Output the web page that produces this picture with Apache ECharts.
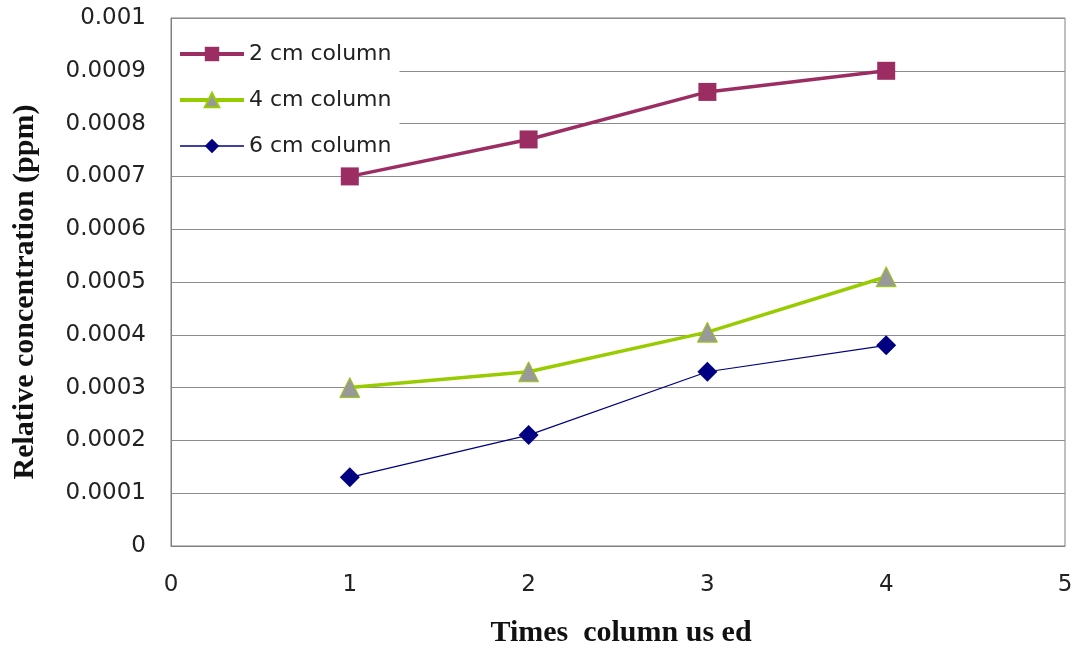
<!DOCTYPE html>
<html>
<head>
<meta charset="utf-8">
<script src="https://cdn.jsdelivr.net/npm/echarts@6/dist/echarts.min.js"></script>
<style>
html,body{margin:0;padding:0;background:#fff;}
#chart{width:1076px;height:654px;}
</style>
</head>
<body>
<div id="chart"></div>
<script>
const xValues = [1, 2, 3, 4];
const seriesNames = ['2 cm column', '4 cm column', '6 cm column'];
const col2cm = [0.0007, 0.00077, 0.00086, 0.0009];
const col4cm = [0.0003, 0.00033, 0.000405, 0.00051];
const col6cm = [0.00013, 0.00021, 0.00033, 0.00038];
const xTitle = 'Times  column us ed';
const yTitle = 'Relative concentration (ppm)';

function pairs(vals){ return xValues.map((x,i)=>[x, vals[i]]); }

const C2 = '#9b2d63', C4 = '#99cc00', C6 = '#000080';
const chart = echarts.init(document.getElementById('chart'), null, {renderer:'canvas'});
const tickFont = {fontFamily:'DejaVu Sans', fontSize:23, color:'#222'};
chart.setOption({
  animation:false,
  backgroundColor:'#fff',
  grid:{left:171, right:11, top:18, bottom:108, show:true, borderColor:'#808080', borderWidth:1, backgroundColor:'transparent'},
  legend:{
    orient:'vertical', left:172, top:35,
    padding:[8,8,4,6], backgroundColor:'#fff',
    itemWidth:64, itemHeight:18, itemGap:24,
    textStyle:{fontFamily:'DejaVu Sans', fontSize:22, color:'#222'},
    data:[
      {name:seriesNames[0], lineStyle:{width:4, color:C2}},
      {name:seriesNames[1], lineStyle:{width:4, color:C4}},
      {name:seriesNames[2], lineStyle:{width:1.5, color:C6}}
    ]
  },
  xAxis:{
    type:'value', min:0, max:5, interval:1,
    name:xTitle, nameLocation:'middle', nameGap:72,
    nameTextStyle:{fontFamily:'Liberation Serif', fontWeight:'bold', fontSize:30, color:'#111', padding:[0,0,0,6]},
    axisLine:{show:true, lineStyle:{color:'#808080'}},
    axisTick:{show:false},
    axisLabel:Object.assign({margin:28}, tickFont),
    splitLine:{show:false}
  },
  yAxis:{
    type:'value', min:0, max:0.001, interval:0.0001,
    name:yTitle, nameLocation:'middle', nameGap:131,
    nameTextStyle:{fontFamily:'Liberation Serif', fontWeight:'bold', fontSize:30, color:'#111', padding:[0,20,0,0]},
    axisLine:{show:true, lineStyle:{color:'#808080'}},
    axisTick:{show:false},
    axisLabel:Object.assign({margin:25, formatter:v=>String(+v.toFixed(4))}, tickFont),
    splitLine:{show:true, lineStyle:{color:'#8c8c8c', width:1}}
  },
  series:[
    {name:seriesNames[0], type:'line', data:pairs(col2cm), symbol:'rect', symbolSize:18,
     lineStyle:{color:C2, width:3.5}, itemStyle:{color:C2}},
    {name:seriesNames[1], type:'line', data:pairs(col4cm), symbol:'triangle', symbolSize:20,
     lineStyle:{color:C4, width:3.5}, itemStyle:{color:'#999999', borderColor:C4, borderWidth:1}},
    {name:seriesNames[2], type:'line', data:pairs(col6cm), symbol:'diamond', symbolSize:20,
     lineStyle:{color:C6, width:1.2}, itemStyle:{color:C6}}
  ]
});
</script>
</body>
</html>
